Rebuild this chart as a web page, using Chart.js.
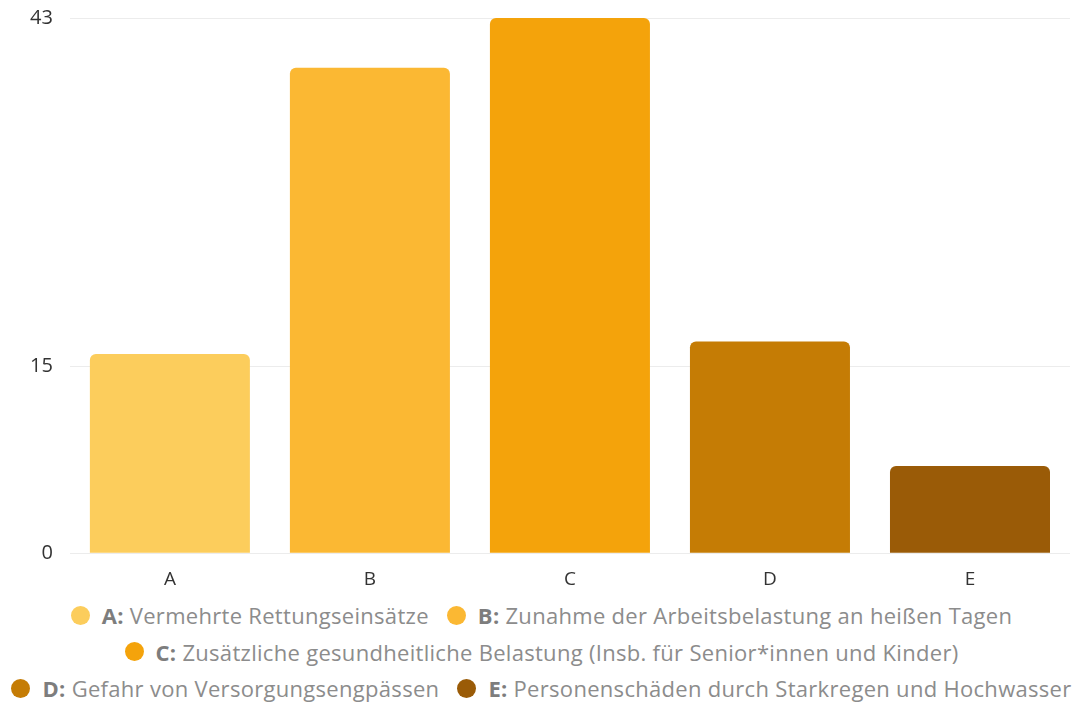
<!DOCTYPE html>
<html>
<head>
<meta charset="utf-8">
<script src="https://cdn.jsdelivr.net/npm/chart.js@4/dist/chart.umd.min.js"></script>
<style>
  html, body { margin: 0; padding: 0; background: #fff; overflow: hidden; }
  #wrap { width: 1083px; height: 703px; position: relative; overflow: hidden; }
  #box { width: 1083px; height: 617px; position: relative; margin-top: -11px; }
  #legend {
    width: 1083px; display: flex; flex-wrap: wrap; justify-content: center;
    font-family: "Open Sans", sans-serif; font-size: 22px; letter-spacing: 0.3px; color: #8c8c8c;
    line-height: 36.5px; padding: 0; margin: -9px 0 0 0; box-sizing: border-box;
  }
  .item { display: flex; align-items: center; margin: 0 9px; white-space: nowrap; }
  .dot { width: 19px; height: 19px; border-radius: 50%; margin-right: 12px; display: inline-block; }
  .item b { color: #7d7d7d; font-weight: 700; margin-right: 6px; }
  .break { flex-basis: 100%; height: 0; }
</style>
</head>
<body>
<div id="wrap">
  <div id="box"><canvas id="c"></canvas></div>
  <div id="legend"></div>
</div>
<script>
// Categories, their long descriptions, values and colours
const categories = ["A", "B", "C", "D", "E"];
const descriptions = [
  "Vermehrte Rettungseinsätze",
  "Zunahme der Arbeitsbelastung an heißen Tagen",
  "Zusätzliche gesundheitliche Belastung (Insb. für Senior*innen und Kinder)",
  "Gefahr von Versorgungsengpässen",
  "Personenschäden durch Starkregen und Hochwasser"
];
const values = [16, 39, 43, 17, 7];
const colors = ["#fccd5c", "#fbb833", "#f4a30b", "#c57c05", "#9a5b07"];
const yTicks = [0, 15, 43];
// legend rows: indices shown on each line
const legendRows = [[0, 1], [2], [3, 4]];

new Chart(document.getElementById("c"), {
  type: "bar",
  data: {
    labels: categories,
    datasets: [{
      data: values,
      backgroundColor: colors,
      borderRadius: { topLeft: 6, topRight: 6 },
      borderSkipped: "bottom",
      categoryPercentage: 1.0,
      barPercentage: 0.8
    }]
  },
  options: {
    responsive: true,
    maintainAspectRatio: false,
    animation: false,
    layout: { autoPadding: false, padding: { top: 7, right: 13, left: 13, bottom: 0 } },
    plugins: { legend: { display: false }, tooltip: { enabled: false } },
    scales: {
      x: {
        grid: { display: false, drawTicks: false },
        border: { display: false },
        ticks: { color: "#333", font: { family: "Open Sans", size: 19 }, padding: 15 }
      },
      y: {
        min: 0, max: 43,
        afterBuildTicks: (s) => { s.ticks = yTicks.map(v => ({ value: v })); },
        grid: { color: "#ececec", drawTicks: false },
        border: { display: false },
        ticks: { color: "#333", font: { family: "Open Sans", size: 20 }, padding: 17 }
      }
    }
  }
});

// HTML legend with bold category keys
const leg = document.getElementById("legend");
legendRows.forEach((row, r) => {
  row.forEach(i => {
    const it = document.createElement("div");
    it.className = "item";
    const d = document.createElement("span");
    d.className = "dot";
    d.style.background = colors[i];
    const b = document.createElement("b");
    b.textContent = categories[i] + ":";
    const t = document.createElement("span");
    t.textContent = descriptions[i];
    it.append(d, b, t);
    leg.appendChild(it);
  });
  if (r < legendRows.length - 1) {
    const br = document.createElement("div");
    br.className = "break";
    leg.appendChild(br);
  }
});
</script>
</body>
</html>
